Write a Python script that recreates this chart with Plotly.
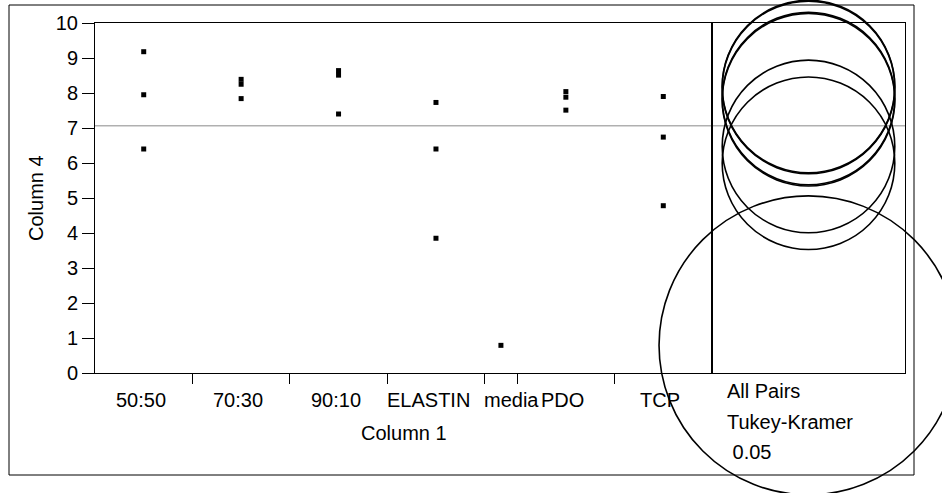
import numpy as np
import plotly.graph_objects as go

# ---- data -------------------------------------------------------------
categories = ["50:50", "70:30", "90:10", "ELASTIN", "media", "PDO", "TCP"]
g_50_50 = [9.18, 7.95, 6.40]
g_70_30 = [8.39, 8.25, 7.84]
g_90_10 = [8.64, 8.51, 7.40]
g_elastin = [7.73, 6.40, 3.85]
g_media = [0.79]
g_pdo = [8.04, 7.88, 7.51]
g_tcp = [7.90, 6.74, 4.78]
groups = [g_50_50, g_70_30, g_90_10, g_elastin, g_media, g_pdo, g_tcp]

y_ticks = list(range(0, 11))
tukey_q = 4.949          # studentized range q(0.05; 7 groups, 12 df)
alpha_text = "0.05"
comparison_lines = ["All Pairs", "Tukey-Kramer", "\u00a0" + alpha_text]
title_text = "Oneway Analysis of Column 4 By Column 1"

# ---- layout constants -------------------------------------------------
FIG_W, FIG_H = 942, 493
M_L, M_R, M_T, M_B = 95, 37, 23, 120
PLOT_W = FIG_W - M_L - M_R
PLOT_H = FIG_H - M_T - M_B
Y_MIN, Y_MAX = 0, 10
SPLIT = 617 / PLOT_W            # main panel | comparison-circle panel
FONT = "Liberation Sans, Arial, sans-serif"
FS = 20


def paper_x(px):
    return (px - M_L) / PLOT_W


def paper_y(py):
    return (M_T + PLOT_H - py) / PLOT_H


# ---- statistics -------------------------------------------------------
counts = [len(g) for g in groups]
edges = np.concatenate([[0], np.cumsum(counts)])
centers = (edges[:-1] + edges[1:]) / 2
all_vals = np.concatenate(groups)
grand_mean = float(all_vals.mean())
means = [float(np.mean(g)) for g in groups]
df_err = len(all_vals) - len(groups)
sse = sum(float(((np.asarray(g) - np.mean(g)) ** 2).sum()) for g in groups)
rmse = np.sqrt(sse / df_err)
radii = [tukey_q / np.sqrt(2) * rmse / np.sqrt(n) for n in counts]
px_per_unit = PLOT_H / (Y_MAX - Y_MIN)

fig = go.Figure()

# individual observations
for name, vals, cx in zip(categories, groups, centers):
    fig.add_trace(go.Scatter(
        x=[cx] * len(vals), y=vals, mode="markers", name=name,
        marker=dict(symbol="square", size=5, color="black", line=dict(width=0)),
        xaxis="x", yaxis="y", showlegend=False,
    ))

# comparison circles (radius in data units -> marker diameter in px)
fig.add_trace(go.Scatter(
    x=[0] * len(means), y=means, mode="markers", cliponaxis=False,
    marker=dict(symbol="circle-open", color="black", opacity=1,
                size=[2 * r * px_per_unit for r in radii],
                line=dict(width=1.6)),
    xaxis="x2", yaxis="y2", showlegend=False, hoverinfo="y",
))

axis_common = dict(showline=True, linecolor="black", linewidth=1, mirror=True,
                   showgrid=False, zeroline=False)

fig.update_layout(
    width=FIG_W, height=FIG_H,
    margin=dict(l=M_L, r=M_R, t=M_T, b=M_B, pad=0),
    paper_bgcolor="white", plot_bgcolor="white",
    font=dict(family=FONT, size=FS, color="black"),
    showlegend=False,
    xaxis=dict(domain=[0, SPLIT], range=[0, float(edges[-1])], anchor="y",
               tickmode="array", tickvals=[float(e) for e in edges[1:-1]],
               ticks="outside", ticklen=10, tickwidth=1, tickcolor="black",
               showticklabels=False, **axis_common),
    yaxis=dict(domain=[0, 1], range=[Y_MIN, Y_MAX], anchor="x",
               tickmode="array", tickvals=y_ticks,
               ticks="outside", ticklen=12, tickwidth=1, tickcolor="black",
               tickfont=dict(size=FS), **axis_common),
    xaxis2=dict(domain=[SPLIT, 1], range=[-1, 1], anchor="y2",
                showticklabels=False, ticks="", **axis_common),
    yaxis2=dict(domain=[0, 1], range=[Y_MIN, Y_MAX], anchor="x2",
                showticklabels=False, ticks="", **axis_common),
)

# grand mean line across both panels
fig.add_shape(type="line", xref="paper", yref="y", x0=0, x1=1,
              y0=grand_mean, y1=grand_mean,
              line=dict(color="#8a8a8a", width=1), layer="below")

# outer report frame
fig.add_shape(type="rect", xref="paper", yref="paper",
              x0=paper_x(9), x1=paper_x(914), y0=paper_y(475), y1=paper_y(5),
              line=dict(color="black", width=1), fillcolor="rgba(0,0,0,0)")

annotations = []
# category labels
label_shift = {"ELASTIN": -7, "media": 11}
for name, cx in zip(categories, centers):
    annotations.append(dict(
        x=float(cx), xref="x", y=paper_y(400), yref="paper",
        text=name, showarrow=False, xanchor="center", yanchor="middle",
        xshift=label_shift.get(name, -3), font=dict(size=FS)))

# axis titles
annotations.append(dict(x=SPLIT / 2, xref="paper", y=paper_y(433), yref="paper",
                        text="Column 1", showarrow=False, xanchor="center",
                        yanchor="middle", font=dict(size=FS)))
annotations.append(dict(x=paper_x(36), xref="paper", y=0.5, yref="paper",
                        text="Column 4", textangle=-90, showarrow=False,
                        xanchor="center", yanchor="middle", font=dict(size=FS)))

# comparison-circle legend text
for line_text, py in zip(comparison_lines, [391, 421.7, 452.3]):
    annotations.append(dict(x=paper_x(725), xref="paper", y=paper_y(py), yref="paper",
                            text=line_text, showarrow=False, xanchor="left",
                            yanchor="middle", font=dict(size=FS)))

# report title (sits at the very top edge, only its descenders show)
annotations.append(dict(x=paper_x(3), xref="paper", y=paper_y(2), yref="paper",
                        text="<b>" + title_text + "</b>", showarrow=False,
                        xanchor="left", yanchor="bottom", font=dict(size=27)))

fig.update_layout(annotations=annotations)

fig.write_html("out.html")
